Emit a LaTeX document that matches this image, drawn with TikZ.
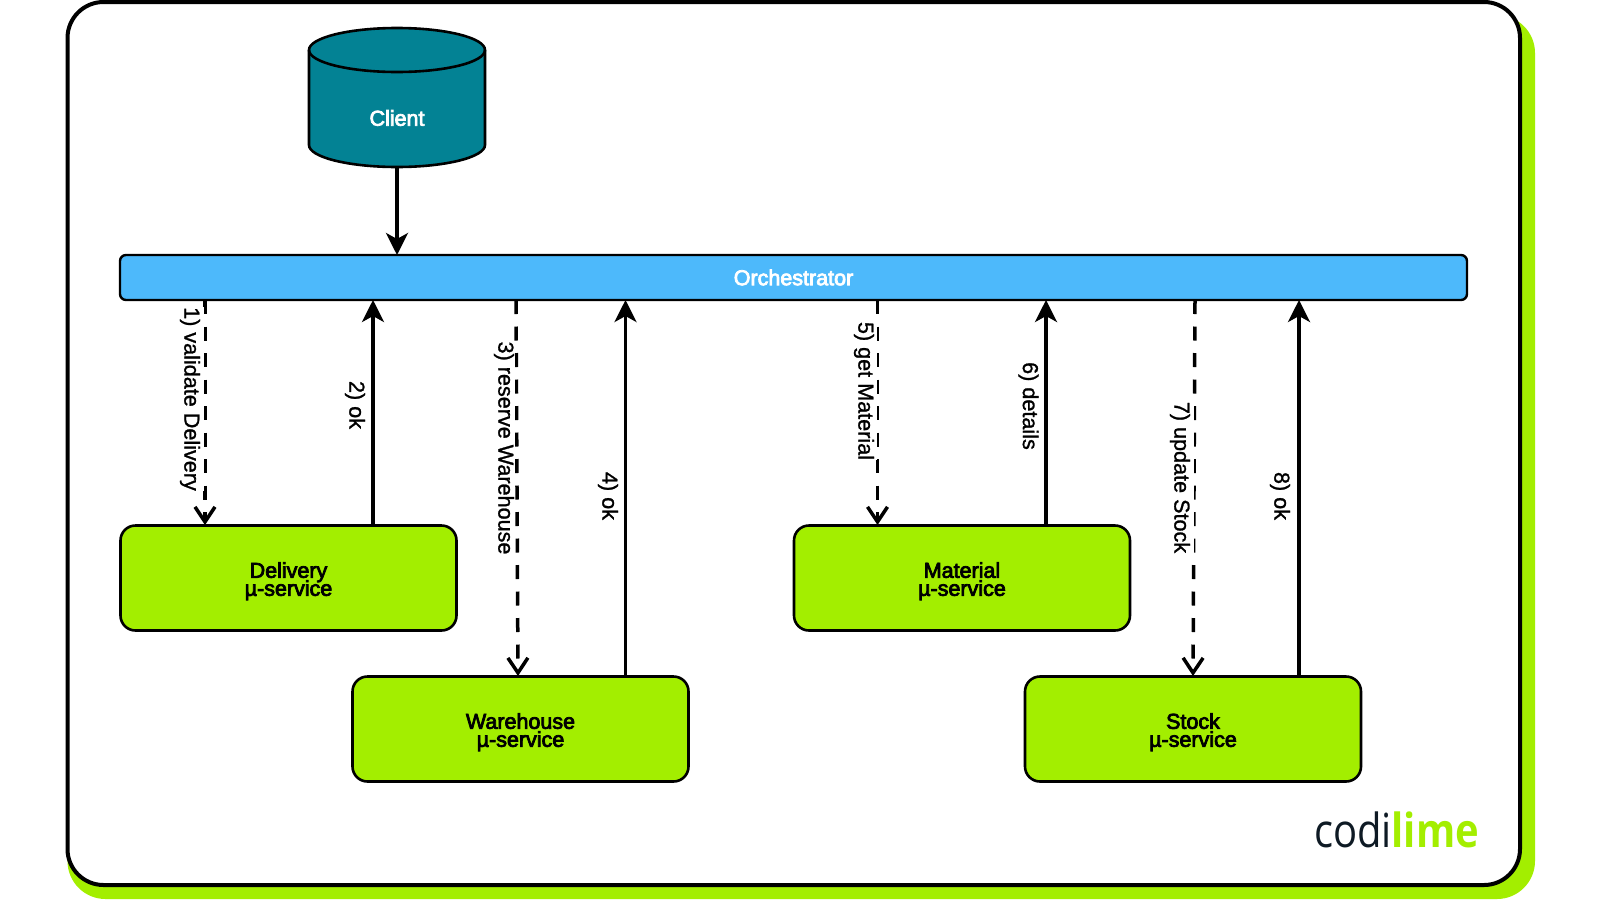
\documentclass[tikz,border=0pt]{standalone}
\usepackage{fontspec}
\setmainfont{Liberation Sans}
\newfontfamily\logofont{Open Sans}
\newfontfamily\medfont[FakeBold=3.5]{Liberation Sans}
\newfontfamily\lblfont[FakeBold=1.2]{Liberation Sans}
\newcommand\svclabel[1]{\rule{0pt}{22pt}#1\\[-3pt]µ-service\rule[-1pt]{0pt}{1pt}}
\definecolor{lime}{HTML}{A3EE00}
\definecolor{teal0}{HTML}{038294}
\definecolor{sky}{HTML}{4DB9FB}
\definecolor{ink}{HTML}{0E1A24}
\usetikzlibrary{arrows.meta,shapes.geometric}
\tikzset{
  x=1pt,y=-1pt,
  every node/.style={inner sep=0pt,outer sep=0pt},
  frame/.style={draw=black,line width=4pt,rounded corners=36pt,fill=white},
  backing/.style={fill=lime,rounded corners=38pt},
  svc/.style={draw=black,line width=2.6pt,fill=lime,rounded corners=15pt,minimum width=336pt,minimum height=105pt,align=center,font=\fontsize{21.5}{21}\medfont},
  bar/.style={draw=black,line width=2.4pt,fill=sky,rounded corners=6pt},
  flow/.style={draw=black,line width=3.5pt,-{Stealth[length=22pt,width=22pt,inset=6pt]}},
  req/.style={draw=black,line width=3.5pt,dash pattern=on 14pt off 12.5pt,-{Straight Barb[length=15pt,width=20pt,line width=3.5pt]}},
  lbl/.style={rotate=-90,font=\fontsize{21.6}{24}\lblfont,fill=white,minimum height=26pt},
}
\begin{document}
\begin{tikzpicture}
\useasboundingbox (0,0) rectangle (1600,900);
\fill[white] (0,0) rectangle (1600,900);
\path[backing] (67.5,15) rectangle (1535,899);
\path[frame] (67.5,2) rectangle (1520,885);
% client cylinder
\filldraw[draw=black,line width=2.6pt,fill=teal0]
  (309,50) -- (309,145) arc[start angle=180,end angle=0,x radius=88,y radius=22]
  -- (485,50) arc[start angle=0,end angle=-180,x radius=88,y radius=22] -- cycle;
\draw[line width=2.6pt] (309,50) arc[start angle=180,end angle=0,x radius=88,y radius=22];
\node[text=white,font=\fontsize{21.5}{24}\medfont] (client) at (397,118) {Client};
\coordinate (clientbottom) at (397,167);
% orchestrator
\node[bar,minimum width=1347pt,minimum height=45pt,text=white,font=\fontsize{21.5}{24}\medfont] (orch) at (793.5,277.5) {Orchestrator};
\node[svc] (delivery) at (288.5,578) {\svclabel{Delivery}};
\node[svc] (warehouse) at (520.5,729) {\svclabel{Warehouse}};
\node[svc] (material) at (962,578) {\svclabel{Material}};
\node[svc] (stock) at (1193,729) {\svclabel{Stock}};
\draw[flow] (clientbottom) -- (orch.north -| clientbottom);
% requests
\coordinate (a1) at (205,300); \coordinate (b1) at (205,525);
\coordinate (a3) at (516,300); \coordinate (b3) at (518,676);
\coordinate (a5) at (877.5,300); \coordinate (b5) at (877.5,525);
\coordinate (a7) at (1195,300); \coordinate (b7) at (1193,676);
\draw[req] (a1) -- (b1);
\draw[req] (a3) -- (b3);
\draw[req] (a5) -- (b5);
\draw[req] (a7) -- (b7);
% replies
\coordinate (c2) at (373,525); \coordinate (d2) at (373,300);
\coordinate (c4) at (625.5,676); \coordinate (d4) at (625.5,300);
\coordinate (c6) at (1046,525); \coordinate (d6) at (1046,300);
\coordinate (c8) at (1299,676); \coordinate (d8) at (1299,300);
\draw[flow] (c2) -- (d2);
\draw[flow] (c4) -- (d4);
\draw[flow] (c6) -- (d6);
\draw[flow] (c8) -- (d8);
% labels
\node[lbl,minimum height=28pt] (l1) at (190,399) {1) validate Delivery};
\node[lbl] (l2) at (355,405) {2) ok};
\node[lbl,minimum height=22pt] (l3) at (504,448) {3) reserve Warehouse};
\node[lbl] (l4) at (608,496) {4) ok};
\node[lbl,minimum height=25pt] (l5) at (864,391) {5) get Material};
\node[lbl] (l6) at (1028.5,406) {6) details};
\node[lbl,minimum height=27pt] (l7) at (1180,477.5) {7) update Stock};
\node[lbl] (l8) at (1280,496) {8) ok};
% logo
\node[anchor=base east,xscale=.85,font=\fontsize{47}{50}\selectfont\logofont] (logo) at (1479,847) {\textcolor{ink}{codi}\textcolor{lime}{\bfseries lime}};
\end{tikzpicture}
\end{document}
